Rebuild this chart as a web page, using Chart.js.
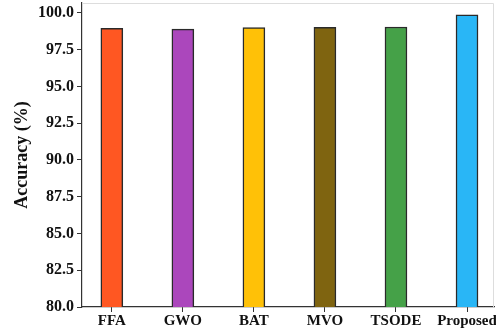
<!DOCTYPE html>
<html>
<head>
  <title>Accuracy Comparison</title>
  <script src="https://cdn.jsdelivr.net/npm/chart.js"></script>
  <style>
    body { margin: 0; background: #fff; }
  </style>
</head>
<body>
  <canvas id="accChart" width="496" height="331" style="width:496px;height:331px;"></canvas>
  <script>
    const methods = ["FFA", "GWO", "BAT", "MVO", "TSODE", "Proposed"];
    const accuracy = [98.95, 98.9, 99.0, 99.03, 99.05, 99.88];
    const barColors = ["#FF5722", "#AB47BC", "#FFC107", "#7F6410", "#45A148", "#29B6F6"];
    const yTicks = [80.0, 82.5, 85.0, 87.5, 90.0, 92.5, 95.0, 97.5, 100.0];

    const fam = "'Liberation Serif', 'Times New Roman', serif";
    const axisColor = "#333";

    const ctx = document.getElementById("accChart").getContext("2d");
    new Chart(ctx, {
      type: "bar",
      data: {
        datasets: [{
          label: "Accuracy (%)",
          data: accuracy.map((v, i) => ({ x: i, y: v })),
          backgroundColor: barColors,
          borderColor: "#2a2a2a",
          borderWidth: 1.5,
          barThickness: 22,
          borderSkipped: "bottom"
        }]
      },
      options: {
        responsive: false,
        animation: false,
        layout: { padding: { top: 3, right: 2, left: 0, bottom: 0 } },
        plugins: { legend: { display: false }, tooltip: { enabled: false } },
        scales: {
          x: {
            type: "linear",
            min: -0.42,
            max: 5.38,
            offset: false,
            afterBuildTicks: s => { s.ticks = methods.map((m, i) => ({ value: i })); },
            afterFit: s => { s.height = 24; s.paddingLeft = 0; s.paddingRight = 0; },
            ticks: {
              callback: v => methods[v],
              color: "#111",
              font: { family: fam, weight: "bold", size: 15 },
              padding: 0,
              maxRotation: 0,
              autoSkip: false
            },
            grid: { drawOnChartArea: false, offset: false, tickLength: 5, tickColor: axisColor },
            border: { color: axisColor, width: 1.2 }
          },
          y: {
            min: 80,
            max: 100.68,
            afterBuildTicks: s => { s.ticks = yTicks.map(v => ({ value: v })); },
            afterFit: s => { s.width = 82; s.paddingTop = 0; s.paddingBottom = 0; },
            ticks: {
              callback: v => v.toFixed(1),
              color: "#111",
              font: { family: fam, weight: "bold", size: 16 },
              padding: 3
            },
            title: {
              display: true,
              text: "Accuracy (%)",
              color: "#111",
              font: { family: fam, weight: "bold", size: 18 },
              padding: { top: 12, bottom: 0 }
            },
            grid: { drawOnChartArea: false, tickLength: 5, tickColor: axisColor },
            border: { color: axisColor, width: 1.2 }
          }
        }
      },
      plugins: [{
        id: "frame",
        afterDraw(chart) {
          const a = chart.chartArea, c = chart.ctx;
          c.save();
          c.strokeStyle = "#ddd";
          c.lineWidth = 1;
          c.beginPath();
          c.moveTo(a.left, a.top + 0.5);
          c.lineTo(a.right - 0.5, a.top + 0.5);
          c.lineTo(a.right - 0.5, a.bottom);
          c.stroke();
          c.restore();
        }
      }]
    });
  </script>
</body>
</html>
